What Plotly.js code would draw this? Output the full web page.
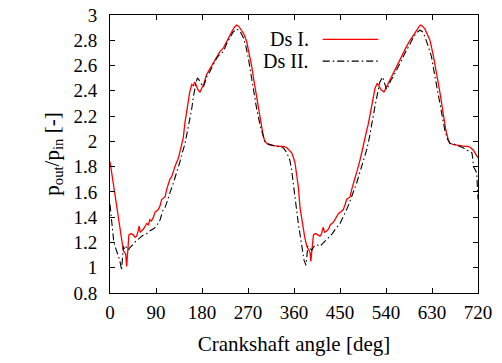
<!DOCTYPE html>
<html>
<head>
<meta charset="utf-8">
<script src="https://cdn.plot.ly/plotly-3.0.1.min.js"></script>
<style>html,body{margin:0;padding:0;background:#fff;}#chart{width:502px;height:363px;}</style>
</head>
<body>
<div id="chart"></div>
<script>
// Ds I. (red, solid)
const angleDs1 = [0,3,6.5,10,13,16.5,19.6,23,26,28.5,30.6,32.6,34,37,41,45.6,49,52,55,57,59,62,66,69,72,75,78,81,85,88,91,94.5,98,101,104,107.6,111,114,117,120.7,124,127,130,134,137,140,143.4,146.7,150,153,156,160,163,166,169,172,176,180,184,189,195,200,205,209,215,222,228,235,240,244.6,248,252,257.6,262,267.4,272,277,282,287,292,297,300,303,308,313,320,326,331,336,340,346,351,355.5,359,362,365,368.5,371.7,375,378,381,385,388,390,391.5,393,395,398,402,407,411,414,417,420,424,428,431,434,437,440,443,447,451,456.5,460,463,466,469.6,473,476,480,483,486,489,492.5,496,499,503,505,508.7,513,518.5,521,523,526,530,536,542,548,555,561,567,574,580,587,593,600,605,608,612,616,621,626,632,639,645,652,657,662,665,672,678,685,691,696,701,706,711,714,717.5,720];
const ratioDs1 = [1.84,1.76,1.67,1.57,1.48,1.40,1.33,1.22,1.14,1.12,1.11,1.01,1.10,1.26,1.27,1.26,1.24,1.25,1.29,1.33,1.28,1.29,1.31,1.33,1.35,1.34,1.38,1.37,1.40,1.44,1.45,1.46,1.49,1.54,1.55,1.56,1.62,1.67,1.70,1.72,1.77,1.80,1.83,1.87,1.92,1.97,2.03,2.15,2.24,2.31,2.39,2.45,2.44,2.47,2.44,2.41,2.39,2.42,2.46,2.53,2.57,2.61,2.64,2.67,2.71,2.74,2.79,2.84,2.88,2.91,2.92,2.91,2.88,2.85,2.79,2.70,2.60,2.47,2.34,2.21,2.10,2.04,2.00,1.98,1.97,1.965,1.96,1.96,1.96,1.96,1.95,1.93,1.91,1.87,1.83,1.74,1.64,1.48,1.38,1.30,1.24,1.17,1.14,1.13,1.12,1.05,1.15,1.26,1.27,1.26,1.25,1.27,1.32,1.28,1.29,1.31,1.34,1.35,1.36,1.38,1.40,1.43,1.44,1.46,1.50,1.54,1.55,1.56,1.62,1.67,1.72,1.76,1.80,1.85,1.91,1.98,2.02,2.10,2.13,2.20,2.30,2.42,2.44,2.46,2.44,2.41,2.39,2.44,2.49,2.54,2.59,2.64,2.70,2.75,2.80,2.84,2.88,2.91,2.92,2.91,2.89,2.85,2.80,2.69,2.54,2.40,2.22,2.09,2.01,1.985,1.975,1.97,1.965,1.96,1.96,1.96,1.95,1.93,1.91,1.89,1.87];

// Ds II. (black, dash-dot)
const angleDs2 = [0,2,4,7,9.8,13,16,19,21,22.8,24,26,28,30.6,33,35.9,39,42,47,52,57,62,67,72,77,81.5,86,91,95,98,101,104,108,111,114,117,121,124,127,130.5,134,137,140,143,146.7,150,155,160,163,166,168.5,171,173.5,176,179,182.6,186,189,195,200,205,209,215,222,228,235,240,244.6,248,251,256,261,266,270.6,275,280,286,293.5,298,303,309,316,322,329,334,339,343,346,349,352,355.5,359,362,365,368.5,372,375,377,379.6,381.5,383.5,385,387,390,394.6,398,401,406,411,416,420.7,425,430,435,440,445,450,456,460,463,468,473,478,482.6,487,492.5,497,502,507,512,515,519,523,528,533.5,537,541,545,549,554,560,567,574,580,587,593,600,606.5,611,616,622,629,635,642,648,655,660,665,672,678,685,691,698,703,708,710,711,714,717.5,719,720];
const ratioDs2 = [1.50,1.40,1.32,1.22,1.17,1.13,1.11,1.06,1.02,0.98,1.05,1.17,1.15,1.17,1.15,1.14,1.16,1.17,1.19,1.22,1.23,1.25,1.26,1.27,1.29,1.30,1.31,1.33,1.36,1.38,1.42,1.46,1.48,1.51,1.55,1.59,1.63,1.67,1.71,1.75,1.79,1.84,1.89,1.93,1.98,2.05,2.15,2.26,2.35,2.43,2.47,2.50,2.49,2.47,2.45,2.43,2.47,2.51,2.55,2.59,2.63,2.66,2.69,2.71,2.77,2.82,2.86,2.88,2.89,2.88,2.86,2.82,2.75,2.66,2.55,2.42,2.28,2.13,2.06,2.00,1.98,1.97,1.965,1.96,1.95,1.95,1.93,1.91,1.88,1.85,1.77,1.67,1.56,1.46,1.35,1.26,1.17,1.11,1.06,1.04,1.02,1.08,1.17,1.16,1.14,1.16,1.18,1.18,1.17,1.19,1.21,1.23,1.25,1.27,1.30,1.33,1.35,1.40,1.43,1.46,1.51,1.56,1.61,1.67,1.73,1.80,1.86,1.93,2.02,2.12,2.20,2.29,2.38,2.47,2.51,2.46,2.41,2.44,2.48,2.51,2.56,2.61,2.67,2.72,2.77,2.82,2.86,2.88,2.87,2.83,2.76,2.67,2.53,2.38,2.22,2.09,2.02,1.985,1.98,1.97,1.96,1.95,1.93,1.92,1.91,1.86,1.80,1.78,1.75,1.62,1.54];

const seriesNames = ["Ds I.", "Ds II."];
const xTicks = [0,90,180,270,360,450,540,630,720];
const yTicks = [0.8,1,1.2,1.4,1.6,1.8,2,2.2,2.4,2.6,2.8,3];
const yTickText = ["0.8","1","1.2","1.4","1.6","1.8","2","2.2","2.4","2.6","2.8","3"];

const family = "Liberation Serif, Times New Roman, serif";
const tickFont = {family: family, size: 19, color: "#000"};
const titleFont = {family: family, size: 21, color: "#000"};
const legendFont = {family: family, size: 20, color: "#000"};

const traces = [
  {x: angleDs1, y: ratioDs1, name: seriesNames[0], type: "scatter", mode: "lines",
   line: {color: "#ff0000", width: 1.3}},
  {x: angleDs2, y: ratioDs2, name: seriesNames[1], type: "scatter", mode: "lines",
   line: {color: "#000000", width: 1.1, dash: "7px,3px,1.5px,3px"}}
];

const axisCommon = {
  showgrid: false, zeroline: false, showline: true, linecolor: "#000", linewidth: 1,
  mirror: "allticks", ticks: "inside", ticklen: 5, tickcolor: "#000", tickwidth: 1,
  tickfont: tickFont
};

const layout = {
  width: 502, height: 363,
  margin: {l: 110, r: 24, t: 15, b: 70},
  paper_bgcolor: "#fff", plot_bgcolor: "#fff",
  font: tickFont,
  showlegend: false,
  xaxis: Object.assign({}, axisCommon, {
    range: [0, 720], tickvals: xTicks, ticktext: xTicks.map(String),
    ticklabelstandoff: 2,
    title: {text: "Crankshaft angle [deg]", font: titleFont, standoff: 14}
  }),
  yaxis: Object.assign({}, axisCommon, {
    range: [0.8, 3], tickvals: yTicks, ticktext: yTickText,
    ticklabelstandoff: 8,
    title: {text: "p<sub>out</sub>/p<sub>in</sub> [-]", font: titleFont, standoff: 8}
  }),
  annotations: [
    {xref: "paper", yref: "paper", x: 0.545, y: 0.912, xanchor: "right", yanchor: "middle",
     text: seriesNames[0], showarrow: false, font: legendFont},
    {xref: "paper", yref: "paper", x: 0.545, y: 0.834, xanchor: "right", yanchor: "middle",
     text: seriesNames[1], showarrow: false, font: legendFont}
  ],
  shapes: [
    {type: "line", xref: "paper", yref: "paper", x0: 0.578, x1: 0.729, y0: 0.912, y1: 0.912,
     line: {color: "#ff0000", width: 1.3}},
    {type: "line", xref: "paper", yref: "paper", x0: 0.578, x1: 0.729, y0: 0.834, y1: 0.834,
     line: {color: "#000000", width: 1.1, dash: "7px,3px,1.5px,3px"}}
  ]
};

Plotly.newPlot("chart", traces, layout, {displayModeBar: false, staticPlot: true});
</script>
</body>
</html>
